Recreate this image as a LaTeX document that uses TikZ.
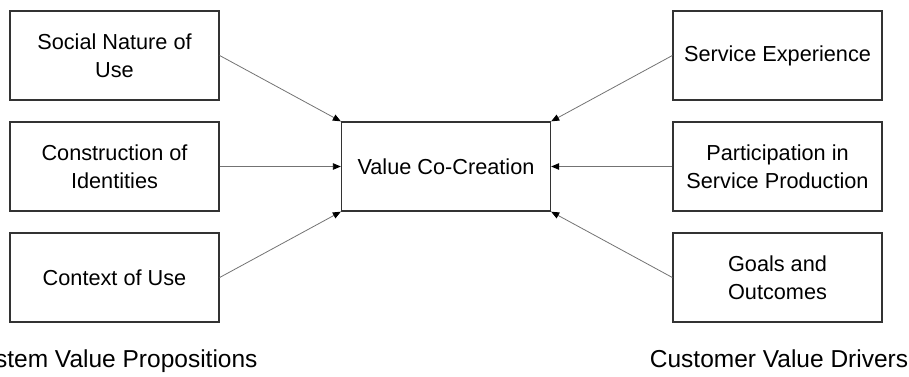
\documentclass[tikz,border=0pt]{standalone}
\usepackage{fontspec}
\setmainfont{Liberation Sans}
\usetikzlibrary{arrows.meta}
\begin{document}
\begin{tikzpicture}[x=1pt,y=-1pt,
  box/.style={draw=black!80,line width=1.3pt,minimum width=209pt,minimum height=89pt,align=center,inner sep=0pt,font=\fontsize{21.7}{27.5}\selectfont},
  conn/.style={draw=black!55,line width=0.8pt,-{Triangle[length=8pt,width=6.5pt,color=black]}},
  caption/.style={font=\fontsize{24.5}{28}\selectfont,inner sep=0pt,anchor=base}]
\useasboundingbox (0,0) rectangle (909,376);
\node[box] (sn) at (114.5,55.5) {Social Nature of\\Use};
\node[box] (ci) at (114.5,166.5) {Construction of\\Identities};
\node[box] (cu) at (114.5,277.5) {Context of Use};
\node[box] (vc) at (446,166.5) {Value Co-Creation};
\node[box] (se) at (777.5,55.5) {Service Experience};
\node[box] (ps) at (777.5,166.5) {Participation in\\Service Production};
\node[box] (go) at (777.5,277.5) {Goals and\\Outcomes};
\node[caption] (sv) at (112,367) {System Value Propositions};
\node[caption] (cv) at (779,367) {Customer Value Drivers};
\draw[conn] (sn.east) -- (vc.north west);
\draw[conn] (ci.east) -- (vc.west);
\draw[conn] (cu.east) -- (vc.south west);
\draw[conn] (se.west) -- (vc.north east);
\draw[conn] (ps.west) -- (vc.east);
\draw[conn] (go.west) -- (vc.south east);
\end{tikzpicture}
\end{document}
